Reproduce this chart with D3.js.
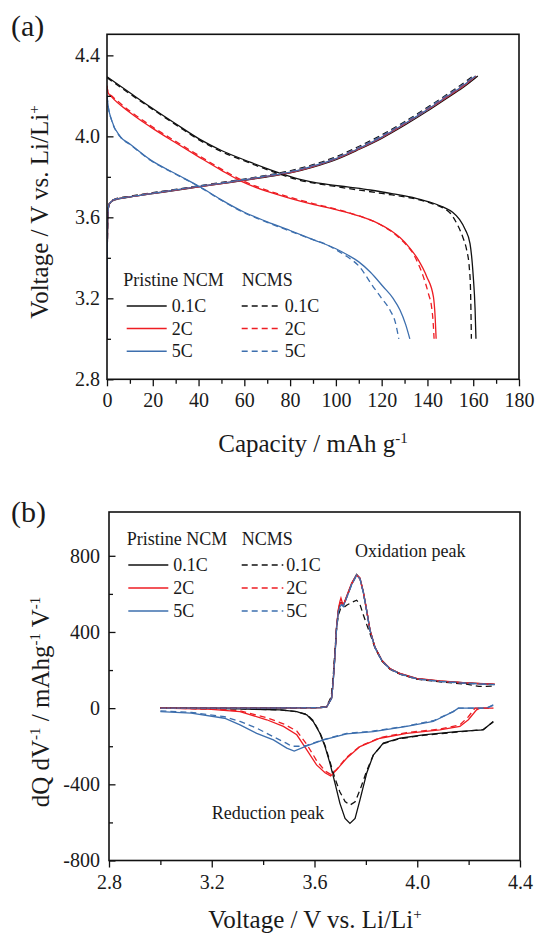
<!DOCTYPE html>
<html>
<head>
<meta charset="utf-8">
<script src="https://cdn.jsdelivr.net/npm/d3@7"></script>
<style>
  body { margin: 0; background: #fff; }
  svg text { font-family: "Liberation Serif", "Times New Roman", serif; fill: #1a1a1a; }
</style>
</head>
<body>
<div id="chart"></div>
<script>
// ---- panel (a): capacity (mAh/g) vs voltage (V)
const capTicks = [0, 20, 40, 60, 80, 100, 120, 140, 160, 180];
const capMinor = [10, 30, 50, 70, 90, 110, 130, 150, 170];
const voltTicksA = [2.8, 3.2, 3.6, 4.0, 4.4];
const voltMinorA = [3.0, 3.4, 3.8, 4.2];

const rates = ["0.1C", "2C", "5C"];
const rateColors = ["#111111", "#ee1d23", "#3d6fae"];

// discharge, pristine NCM
const dis01P = [[0,4.294],[10,4.215],[18.8,4.146],[30,4.062],[40.6,3.985],[50,3.93],[62.5,3.873],[72,3.832],[84.3,3.788],[95,3.765],[105,3.75],[115,3.735],[125,3.716],[135,3.694],[142,3.672],[147,3.65],[151,3.625],[154,3.59],[156.5,3.54],[158.6,3.47],[160,3.31],[160.8,3.15],[161.2,3.0]];
const dis2P = [[0,4.25],[0.5,4.215],[2,4.195],[10,4.118],[18.8,4.048],[30,3.968],[40.6,3.895],[50,3.832],[59,3.776],[70,3.728],[80,3.694],[90,3.664],[100,3.638],[110,3.607],[118,3.573],[124,3.535],[128,3.5],[132.4,3.447],[136,3.39],[139.7,3.307],[142.6,3.208],[143.4,3.1],[143.8,3.0]];
const dis5P = [[0,4.2],[0.5,4.15],[2,4.08],[5.7,4.0],[10,3.962],[18.8,3.885],[30,3.815],[40.6,3.751],[49.4,3.69],[60,3.625],[70,3.578],[80,3.535],[90,3.49],[100,3.445],[105,3.415],[110,3.38],[115,3.33],[120.7,3.257],[125,3.2],[128,3.142],[130.5,3.07],[132.3,3.0]];
// discharge, NCMS
const dis01S = [[0,4.29],[10,4.21],[18.8,4.142],[30,4.058],[40.6,3.98],[50,3.925],[62.5,3.868],[72,3.827],[84.3,3.783],[100,3.752],[120,3.718],[135,3.69],[142,3.668],[147,3.645],[150,3.62],[152.8,3.57],[155.5,3.5],[157.1,3.44],[158.3,3.35],[158.8,3.25],[159.2,3.0]];
const dis2S = [[0,4.25],[0.5,4.215],[2,4.2],[10,4.125],[18.8,4.055],[30,3.975],[40.6,3.902],[50,3.838],[60,3.778],[70,3.733],[80,3.699],[90,3.668],[100,3.641],[110,3.608],[118,3.572],[124,3.532],[128,3.495],[131.5,3.455],[133.8,3.42],[136,3.37],[138.2,3.307],[140.5,3.22],[141.8,3.158],[142.5,3.08],[142.9,3.0]];
const dis5S = [[0,4.2],[0.5,4.15],[2,4.08],[5.7,3.998],[10,3.96],[18.8,3.883],[30,3.813],[40.6,3.749],[49.4,3.688],[60,3.622],[70,3.575],[80,3.532],[90,3.49],[95,3.47],[100,3.44],[105,3.405],[110,3.36],[116.3,3.257],[120,3.2],[123.6,3.142],[126,3.08],[127.5,3.0]];
// charge
const chg01P = [[0,3.0],[0.15,3.45],[0.4,3.62],[1,3.665],[3,3.685],[10,3.7],[20,3.717],[30,3.733],[40,3.75],[50,3.766],[60,3.782],[70,3.8],[80,3.819],[90,3.848],[100,3.885],[110,3.935],[120,3.99],[130,4.055],[140,4.125],[150,4.2],[156,4.245],[162,4.298]];
const chg2P = [[0,3.0],[0.15,3.45],[0.4,3.62],[1,3.666],[3,3.686],[10,3.701],[20,3.718],[30,3.734],[40,3.751],[50,3.767],[60,3.784],[70,3.802],[80,3.821],[90,3.851],[100,3.888],[110,3.938],[120,3.994],[130,4.06],[140,4.13],[150,4.205],[156,4.25],[161.2,4.298]];
const chg5P = [[0,3.0],[0.15,3.45],[0.4,3.62],[1,3.666],[3,3.686],[10,3.701],[20,3.718],[30,3.735],[40,3.752],[50,3.768],[60,3.785],[70,3.803],[80,3.823],[90,3.853],[100,3.89],[110,3.94],[120,3.996],[130,4.062],[140,4.132],[150,4.208],[156,4.254],[161,4.298]];
const chg01S = [[0,3.0],[0.15,3.46],[0.4,3.625],[1,3.668],[3,3.688],[10,3.704],[20,3.722],[30,3.738],[40,3.755],[50,3.772],[60,3.789],[70,3.808],[80,3.83],[90,3.86],[100,3.899],[110,3.95],[120,4.007],[130,4.072],[140,4.143],[150,4.218],[156,4.265],[160,4.298]];
const chg2S = [[0,3.0],[0.15,3.45],[0.4,3.62],[1,3.667],[3,3.687],[10,3.702],[20,3.72],[30,3.736],[40,3.753],[50,3.77],[60,3.786],[70,3.805],[80,3.825],[90,3.855],[100,3.893],[110,3.944],[120,4.0],[130,4.066],[140,4.137],[150,4.212],[156,4.258],[160.6,4.298]];
const chg5S = [[0,3.0],[0.15,3.45],[0.4,3.62],[1,3.667],[3,3.687],[10,3.702],[20,3.72],[30,3.737],[40,3.754],[50,3.77],[60,3.787],[70,3.806],[80,3.826],[90,3.856],[100,3.894],[110,3.945],[120,4.002],[130,4.068],[140,4.139],[150,4.214],[156,4.26],[160.5,4.298]];

// ---- panel (b): voltage (V) vs dQ/dV
const voltTicksB = [2.8, 3.2, 3.6, 4.0, 4.4];
const voltMinorB = [3.0, 3.4, 3.8, 4.2];
const dqTicks = [-800, -400, 0, 400, 800];
const dqMinor = [-600, -200, 200, 600];

// reduction (discharge) branches
const red01P = [[3.0,0],[3.31,-4],[3.466,-9],[3.531,-18],[3.57,-35],[3.595,-70],[3.621,-132],[3.641,-202],[3.66,-289],[3.68,-395],[3.699,-500],[3.719,-579],[3.738,-605],[3.758,-579],[3.777,-482],[3.803,-342],[3.829,-246],[3.868,-184],[3.933,-158],[4.023,-140],[4.153,-123],[4.257,-114],[4.296,-70]];
const red2P = [[3.0,0],[3.185,-5],[3.31,-18],[3.414,-61],[3.479,-96],[3.531,-140],[3.57,-219],[3.608,-298],[3.641,-339],[3.663,-356],[3.686,-324],[3.725,-263],[3.777,-202],[3.855,-158],[3.959,-132],[4.088,-114],[4.166,-96],[4.199,-61],[4.231,-9],[4.244,0],[4.296,0]];
const red5P = [[3.0,-18],[3.12,-26],[3.25,-53],[3.31,-88],[3.375,-132],[3.44,-167],[3.492,-210],[3.521,-225],[3.57,-198],[3.635,-167],[3.725,-135],[3.829,-123],[3.959,-96],[4.062,-70],[4.14,-18],[4.16,0],[4.27,0],[4.296,18]];
const red01S = [[3.0,0],[3.31,-4],[3.466,-9],[3.531,-18],[3.57,-33],[3.595,-66],[3.621,-128],[3.641,-196],[3.66,-280],[3.68,-370],[3.699,-440],[3.719,-490],[3.738,-509],[3.758,-492],[3.777,-430],[3.803,-330],[3.829,-246],[3.868,-186],[3.933,-160],[4.023,-143],[4.153,-126],[4.257,-112],[4.296,-72]];
const red2S = [[3.0,0],[3.185,-4],[3.31,-14],[3.414,-50],[3.479,-82],[3.531,-120],[3.57,-190],[3.608,-275],[3.641,-330],[3.663,-348],[3.686,-322],[3.725,-258],[3.777,-200],[3.855,-155],[3.959,-128],[4.088,-110],[4.166,-88],[4.199,-45],[4.225,0],[4.296,0]];
const red5S = [[3.0,-14],[3.12,-22],[3.25,-45],[3.31,-70],[3.375,-105],[3.44,-150],[3.492,-185],[3.51,-200],[3.54,-200],[3.57,-195],[3.635,-165],[3.725,-133],[3.829,-120],[3.959,-94],[4.062,-66],[4.14,-18],[4.16,0],[4.27,0],[4.296,15]];
// oxidation (charge) branches
const ox01P = [[3.0,0],[3.3,0],[3.5,1],[3.62,3],[3.647,6],[3.667,54],[3.673,146],[3.68,286],[3.686,426],[3.693,514],[3.699,552],[3.706,555],[3.712,540],[3.725,584],[3.745,654],[3.764,702],[3.777,681],[3.79,610],[3.803,514],[3.816,410],[3.835,321],[3.862,251],[3.894,207],[3.933,181],[3.998,155],[4.089,142],[4.192,132],[4.302,125]];
const ox2P = [[3.0,0],[3.3,0],[3.5,1],[3.62,3],[3.647,6],[3.667,56],[3.673,150],[3.68,290],[3.686,430],[3.693,520],[3.699,560],[3.703,578],[3.708,555],[3.714,545],[3.725,588],[3.745,658],[3.764,700],[3.777,684],[3.79,612],[3.803,516],[3.816,412],[3.835,322],[3.862,252],[3.894,208],[3.933,182],[3.998,156],[4.089,143],[4.192,133],[4.302,126]];
const ox5P = [[3.0,0],[3.3,0],[3.5,1],[3.62,3],[3.647,6],[3.667,52],[3.673,144],[3.68,282],[3.686,420],[3.693,505],[3.699,532],[3.706,545],[3.712,535],[3.725,580],[3.745,650],[3.764,700],[3.777,680],[3.79,608],[3.803,512],[3.816,408],[3.835,320],[3.862,250],[3.894,206],[3.933,180],[3.998,154],[4.089,141],[4.192,131],[4.302,124]];
const ox01S = [[3.0,0],[3.3,0],[3.5,1],[3.62,3],[3.647,8],[3.665,60],[3.672,150],[3.679,290],[3.686,420],[3.693,490],[3.701,520],[3.712,526],[3.725,540],[3.745,556],[3.764,567],[3.777,545],[3.79,490],[3.803,440],[3.816,392],[3.835,318],[3.862,248],[3.894,204],[3.933,178],[3.998,152],[4.089,138],[4.192,126],[4.24,114],[4.302,116]];
const ox2S = [[3.0,0],[3.3,0],[3.5,1],[3.62,3],[3.647,7],[3.667,55],[3.673,148],[3.68,288],[3.686,428],[3.693,512],[3.699,548],[3.706,552],[3.712,538],[3.725,582],[3.745,652],[3.764,698],[3.777,679],[3.79,608],[3.803,512],[3.816,408],[3.835,320],[3.862,250],[3.894,206],[3.933,180],[3.998,154],[4.089,141],[4.192,131],[4.302,124]];
const ox5S = [[3.0,0],[3.3,0],[3.5,1],[3.62,3],[3.647,7],[3.667,53],[3.673,145],[3.68,284],[3.686,422],[3.693,506],[3.699,534],[3.706,544],[3.712,534],[3.725,579],[3.745,649],[3.764,698],[3.777,679],[3.79,607],[3.803,511],[3.816,407],[3.835,319],[3.862,249],[3.894,205],[3.933,179],[3.998,153],[4.089,140],[4.192,130],[4.302,123]];

const svg = d3.select("#chart").append("svg")
    .attr("width", 536).attr("height", 933);

// text with superscripts: parts = [[text, isSup], ...]
function rich(sel, parts, supSize) {
  let up = false;
  parts.forEach(p => {
    const t = sel.append("tspan").text(p[0]);
    if (p[1]) { t.attr("dy", -9).attr("font-size", supSize); up = true; }
    else if (up) { t.attr("dy", 9); up = false; }
  });
}

function drawPanel(o) {
  const g = svg.append("g");
  const x = d3.scaleLinear().domain(o.xDomain).range([o.left, o.right]);
  const y = d3.scaleLinear().domain(o.yDomain).range([o.bottom, o.top]);

  const clipId = "clip-" + o.name;
  g.append("clipPath").attr("id", clipId).append("rect")
      .attr("x", o.left).attr("y", o.top)
      .attr("width", o.right - o.left).attr("height", o.bottom - o.top);

  const line = d3.line().x(d => x(d[0])).y(d => y(d[1])).curve(o.curve);
  const lines = g.append("g").attr("clip-path", `url(#${clipId})`);
  o.series.forEach(s => {
    lines.append("path").datum(s.data)
        .attr("fill", "none")
        .attr("stroke", s.color)
        .attr("stroke-width", 1.3)
        .attr("stroke-dasharray", s.dashed ? "6,4" : null)
        .attr("d", line);
  });

  // bottom axis, ticks outward
  const xa = g.append("g").attr("transform", `translate(0,${o.bottom})`)
      .call(d3.axisBottom(x).tickValues(o.xTicks).tickSize(7).tickFormat(o.xFormat));
  xa.selectAll("text").attr("dy", null).attr("y", 28);
  g.append("g").attr("transform", `translate(0,${o.bottom})`)
      .call(d3.axisBottom(x).tickValues(o.xMinor).tickSize(4.5).tickFormat(""));

  // left axis, ticks inward
  g.append("g").attr("transform", `translate(${o.left},0)`)
      .call(d3.axisLeft(y).tickValues(o.yTicks).tickSize(-6.5).tickPadding(o.yPad).tickFormat(o.yFormat));
  g.append("g").attr("transform", `translate(${o.left},0)`)
      .call(d3.axisLeft(y).tickValues(o.yMinor).tickSize(-4).tickFormat(""));

  g.selectAll(".domain").remove();
  g.selectAll(".tick line").attr("stroke", "#111").attr("stroke-width", 1.3);
  g.selectAll(".tick text").attr("font-size", 20).attr("font-family", null).attr("fill", "#1a1a1a");

  g.append("rect")
      .attr("x", o.left).attr("y", o.top)
      .attr("width", o.right - o.left).attr("height", o.bottom - o.top)
      .attr("fill", "none").attr("stroke", "#111").attr("stroke-width", 1.6);

  // legend
  const lg = g.append("g").attr("font-size", 18);
  lg.append("text").attr("x", o.leg.hx1).attr("y", o.leg.hy).text("Pristine NCM");
  lg.append("text").attr("x", o.leg.hx2).attr("y", o.leg.hy).text("NCMS");
  rates.forEach((r, i) => {
    const ly = o.leg.ry + i * o.leg.dy;
    lg.append("line").attr("x1", o.leg.s1).attr("x2", o.leg.s2).attr("y1", ly).attr("y2", ly)
        .attr("stroke", rateColors[i]).attr("stroke-width", 1.5);
    lg.append("text").attr("x", o.leg.s2 + 5).attr("y", ly + 6).text(r);
    lg.append("line").attr("x1", o.leg.d1).attr("x2", o.leg.d2).attr("y1", ly).attr("y2", ly)
        .attr("stroke", rateColors[i]).attr("stroke-width", 1.5).attr("stroke-dasharray", "6,4");
    lg.append("text").attr("x", o.leg.d2 + 3).attr("y", ly + 6).text(r);
  });
  return g;
}

function buildSeries(pristine, ncms) {
  const out = [];
  pristine.forEach((arrs, i) => arrs.forEach(a => out.push({ data: a, color: rateColors[i], dashed: false })));
  ncms.forEach((arrs, i) => arrs.forEach(a => out.push({ data: a, color: rateColors[i], dashed: true })));
  return out;
}

// panel (a)
drawPanel({
  name: "a",
  left: 107, right: 519, top: 34.3, bottom: 379.3,
  xDomain: [0, 180], yDomain: [2.8, 4.504],
  xTicks: capTicks, xMinor: capMinor, yTicks: voltTicksA, yMinor: voltMinorA,
  xFormat: d3.format("d"), yFormat: d3.format(".1f"), yPad: 7,
  curve: d3.curveMonotoneX,
  series: buildSeries(
    [[chg01P, dis01P], [chg2P, dis2P], [chg5P, dis5P]],
    [[chg01S, dis01S], [chg2S, dis2S], [chg5S, dis5S]]),
  leg: { hx1: 123.3, hx2: 241.7, hy: 285.7, ry: 306, dy: 22.6, s1: 126.7, s2: 166.7, d1: 241.7, d2: 281.7 }
});

// panel (b)
const pb = drawPanel({
  name: "b",
  left: 109, right: 520, top: 512, bottom: 860.5,
  xDomain: [2.8, 4.4], yDomain: [-800, 1030],
  xTicks: voltTicksB, xMinor: voltMinorB, yTicks: dqTicks, yMinor: dqMinor,
  xFormat: d3.format(".1f"), yFormat: d => String(d), yPad: 9,
  curve: d3.curveLinear,
  series: buildSeries(
    [[ox01P, red01P], [ox2P, red2P], [ox5P, red5P]],
    [[ox01S, red01S], [ox2S, red2S], [ox5S, red5S]]),
  leg: { hx1: 126.7, hx2: 241.7, hy: 545, ry: 565, dy: 23, s1: 128.3, s2: 168.3, d1: 241.7, d2: 283.3 }
});
pb.append("text").attr("x", 355).attr("y", 557.3).attr("font-size", 18).text("Oxidation peak");
pb.append("text").attr("x", 211.7).attr("y", 819.3).attr("font-size", 18).text("Reduction peak");

// panel letters
svg.append("text").attr("x", 11).attr("y", 36).attr("font-size", 30).text("(a)");
svg.append("text").attr("x", 11).attr("y", 521.5).attr("font-size", 30).text("(b)");

// axis titles
rich(svg.append("text").attr("x", 313).attr("y", 452).attr("text-anchor", "middle").attr("font-size", 25),
  [["Capacity / mAh g", false], ["-1", true]], 15);
rich(svg.append("text").attr("transform", "translate(48,212) rotate(-90)").attr("text-anchor", "middle").attr("font-size", 25),
  [["Voltage / V vs. Li/Li", false], ["+", true]], 15);
rich(svg.append("text").attr("x", 315).attr("y", 928).attr("text-anchor", "middle").attr("font-size", 25),
  [["Voltage / V vs. Li/Li", false], ["+", true]], 15);
rich(svg.append("text").attr("transform", "translate(49,702) rotate(-90)").attr("text-anchor", "middle").attr("font-size", 25),
  [["dQ dV", false], ["-1", true], [" / mAhg", false], ["-1", true], [" V", false], ["-1", true]], 15);
</script>
</body>
</html>
